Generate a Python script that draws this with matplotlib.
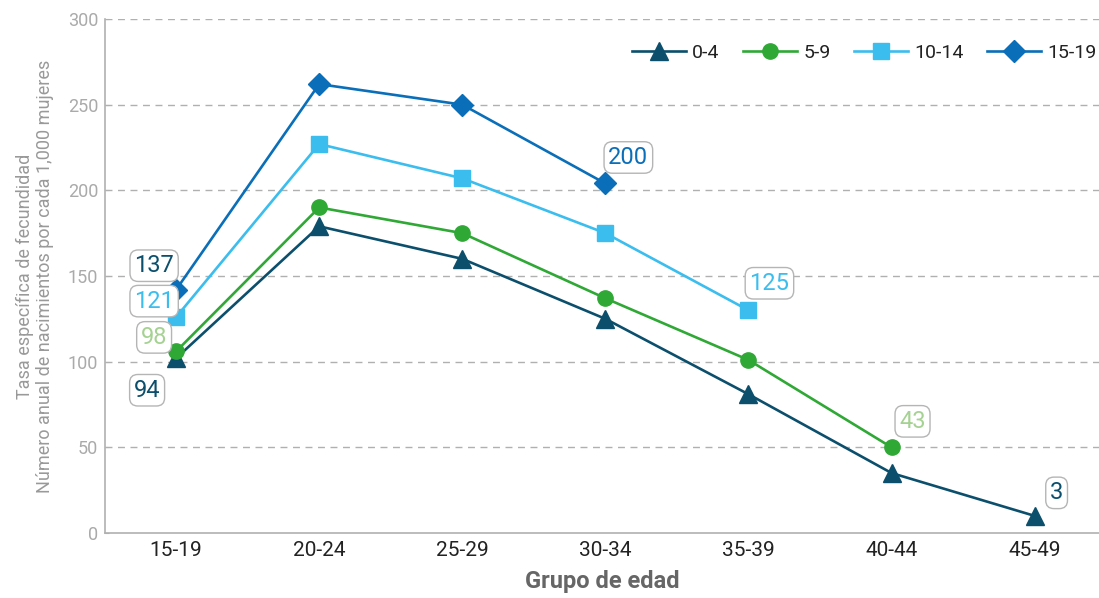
import matplotlib
matplotlib.use("Agg")
import matplotlib.pyplot as plt
from matplotlib import font_manager as fm

names = {f.name for f in fm.fontManager.ttflist}
cond = "Liberation Sans Narrow" if "Liberation Sans Narrow" in names else "Roboto"
plt.rcParams["font.family"] = [cond, "DejaVu Sans"]

categories = ["15-19", "20-24", "25-29", "30-34", "35-39", "40-44", "45-49"]
series_names = ["0-4", "5-9", "10-14", "15-19"]
s0_4 = [102, 179, 160, 125, 81, 35, 10]
s5_9 = [106, 190, 175, 137, 101, 50, None]
s10_14 = [126, 227, 207, 175, 130, None, None]
s15_19 = [142, 262, 250, 204, None, None, None]
y_ticks = [0, 50, 100, 150, 200, 250, 300]

# annotations: (series index, category index, text)
ann_series = [3, 2, 1, 0, 3, 2, 1, 0]
ann_cat = [0, 0, 0, 0, 3, 4, 5, 6]
ann_text = ["137", "121", "98", "94", "200", "125", "43", "3"]

colors = ["#0b4f6c", "#2fa836", "#3bbdee", "#0a6fb8"]
ann_colors = ["#0b4f6c", "#3bbdee", "#a5d292", "#0b4f6c", "#0a6fb8", "#3bbdee", "#a5d292", "#0b4f6c"]
markers = ["^", "o", "s", "D"]
msizes = [13, 11, 12, 11]
ann_offsets = [(-22, 24), (-22, 16), (-22, 14), (-29, -32), (23, 26), (21, 27), (21, 26), (22, 23)]

fig = plt.figure(figsize=(10.99, 5.98), dpi=100)
ax = fig.add_axes([105 / 1099, 65 / 598, 1 - 105 / 1099, (533 - 19) / 598])

all_series = [s0_4, s5_9, s10_14, s15_19]
x = list(range(len(categories)))
for i, s in enumerate(all_series):
    xs = [xi for xi, v in zip(x, s) if v is not None]
    ys = [v for v in s if v is not None]
    ax.plot(xs, ys, color=colors[i], lw=1.9, marker=markers[i], ms=msizes[i],
            label=series_names[i], zorder=3 + i)

for k in range(len(ann_text)):
    si, ci = ann_series[k], ann_cat[k]
    ax.annotate(ann_text[k], xy=(ci, all_series[si][ci]), xytext=ann_offsets[k],
                textcoords="offset pixels", ha="center", va="center",
                fontsize=17, color=ann_colors[k], zorder=10,
                bbox=dict(boxstyle="round,pad=0.18,rounding_size=0.35", fc="white",
                          ec="#b5b5b5", lw=1.0))

ax.set_xlim(-0.497, 6.45)
ax.set_ylim(0, 300)
ax.set_yticks(y_ticks)
ax.set_xticks(x)
ax.set_xticklabels(categories)
for yv in y_ticks[1:]:
    ax.axhline(yv, color="#b0b0b0", lw=1.0, ls=(0, (5, 4)), zorder=1)

for side in ["top", "right"]:
    ax.spines[side].set_visible(False)
for side in ["left", "bottom"]:
    ax.spines[side].set_color("#b0b0b0")
    ax.spines[side].set_linewidth(1.2)

ax.tick_params(axis="y", colors="#b0b0b0", labelcolor="#aaaaaa", labelsize=13,
               direction="in", length=3, pad=5)
ax.tick_params(axis="x", length=0, labelsize=15, labelcolor="#222222", pad=6)

ax.set_xlabel("Grupo de edad", fontsize=17, fontweight="bold", color="#666666", labelpad=7)
ax.set_ylabel("Tasa específica de fecundidad\nNúmero anual de nacimientos por cada 1,000 mujeres",
              fontsize=13, color="#999999", labelpad=10, linespacing=1.15)

leg = ax.legend(loc="center left", bbox_to_anchor=(0.53, (533 - 53) / 514), ncol=4,
                frameon=False, fontsize=14, handlelength=2.8, columnspacing=1.2,
                handletextpad=0.3, borderpad=0, borderaxespad=0)
for t in leg.get_texts():
    t.set_color("#222222")

fig.savefig("out.png", dpi=100)
